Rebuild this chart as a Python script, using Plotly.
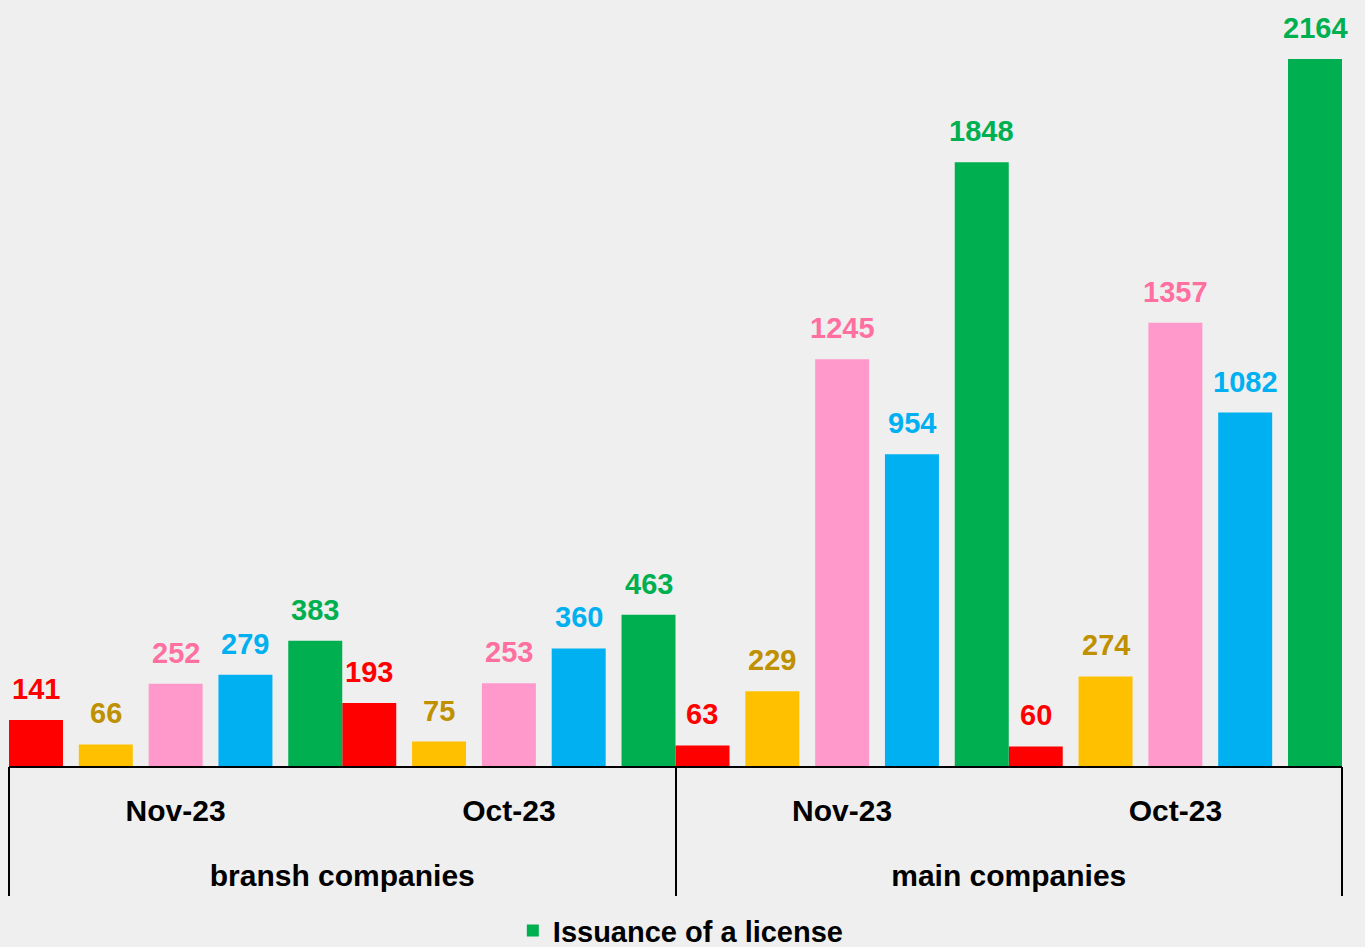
import plotly.graph_objects as go

# ---- data ----
group_labels = ["bransh companies", "main companies"]
month_labels = ["Nov-23", "Oct-23", "Nov-23", "Oct-23"]
series_names = ["Series A", "Series B", "Series C", "Series D", "Issuance of a license"]
values = [
    [141, 193, 63, 60],      # red
    [66, 75, 229, 274],      # gold
    [252, 253, 1245, 1357],  # pink
    [279, 360, 954, 1082],   # blue
    [383, 463, 1848, 2164],  # green
]
bar_colors = ["#FF0000", "#FFC000", "#FF99CC", "#00B0F0", "#00B050"]
label_colors = ["#FF0000", "#BF9000", "#FF6F9F", "#00B0F0", "#00B050"]
show_in_legend = [False, False, False, False, True]

# ---- layout constants ----
W, H = 1365, 947
n = len(series_names)
positions = list(range(len(month_labels)))
bar_w = 0.162
step = (1 - bar_w) / (n - 1)
FONT = "Liberation Sans, Arial, sans-serif"

fig = go.Figure()
annotations = []
for k in range(n):
    off = -0.5 + k * step
    fig.add_trace(go.Bar(
        x=positions, y=values[k], name=series_names[k],
        marker=dict(color=bar_colors[k], line=dict(width=0)),
        width=bar_w, offset=off, showlegend=show_in_legend[k],
        hoverinfo="y",
    ))
    for p, v in zip(positions, values[k]):
        annotations.append(dict(
            x=p + off + bar_w / 2, y=v, xref="x", yref="y",
            text=str(v), showarrow=False, yanchor="bottom", yshift=13,
            font=dict(family=FONT, size=29, color=label_colors[k], weight="bold"),
        ))

# invisible carrier for the outer (group) category axis
fig.add_trace(go.Scatter(
    x=group_labels, y=[0] * len(group_labels), xaxis="x2", yaxis="y",
    mode="markers", marker=dict(opacity=0), showlegend=False, hoverinfo="skip",
))

fig.update_layout(
    width=W, height=H,
    margin=dict(l=9, r=23, t=10, b=181, autoexpand=False),
    paper_bgcolor="#EFEFEF", plot_bgcolor="rgba(0,0,0,0)",
    barmode="overlay",
    font=dict(family=FONT, color="black"),
    xaxis=dict(
        type="linear", range=[-0.5, 3.5],
        tickmode="array", tickvals=positions, ticktext=month_labels,
        showline=True, linecolor="black", linewidth=2,
        showgrid=False, ticks="", zeroline=False,
        ticklabelstandoff=17,
        tickfont=dict(family=FONT, size=30, color="black", weight="bold"),
    ),
    xaxis2=dict(
        type="category", overlaying="x", side="bottom", range=[-0.5, 1.5],
        tickson="boundaries", ticks="outside", ticklen=129, tickwidth=2,
        tickcolor="black", showgrid=False, showline=False, zeroline=False,
        ticklabelstandoff=89,
        tickfont=dict(family=FONT, size=30, color="black", weight="bold"),
    ),
    yaxis=dict(range=[0, 2314], visible=False, showgrid=False, zeroline=False),
    showlegend=True,
    legend=dict(
        orientation="h", x=0.504, xanchor="center", y=-0.2178, yanchor="middle",
        font=dict(family=FONT, size=29, color="black", weight="bold"),
        bgcolor="rgba(0,0,0,0)",
    ),
    annotations=annotations,
)

fig.write_html("out.html", config={"displayModeBar": False},
               post_script="document.body.style.margin='0';")
